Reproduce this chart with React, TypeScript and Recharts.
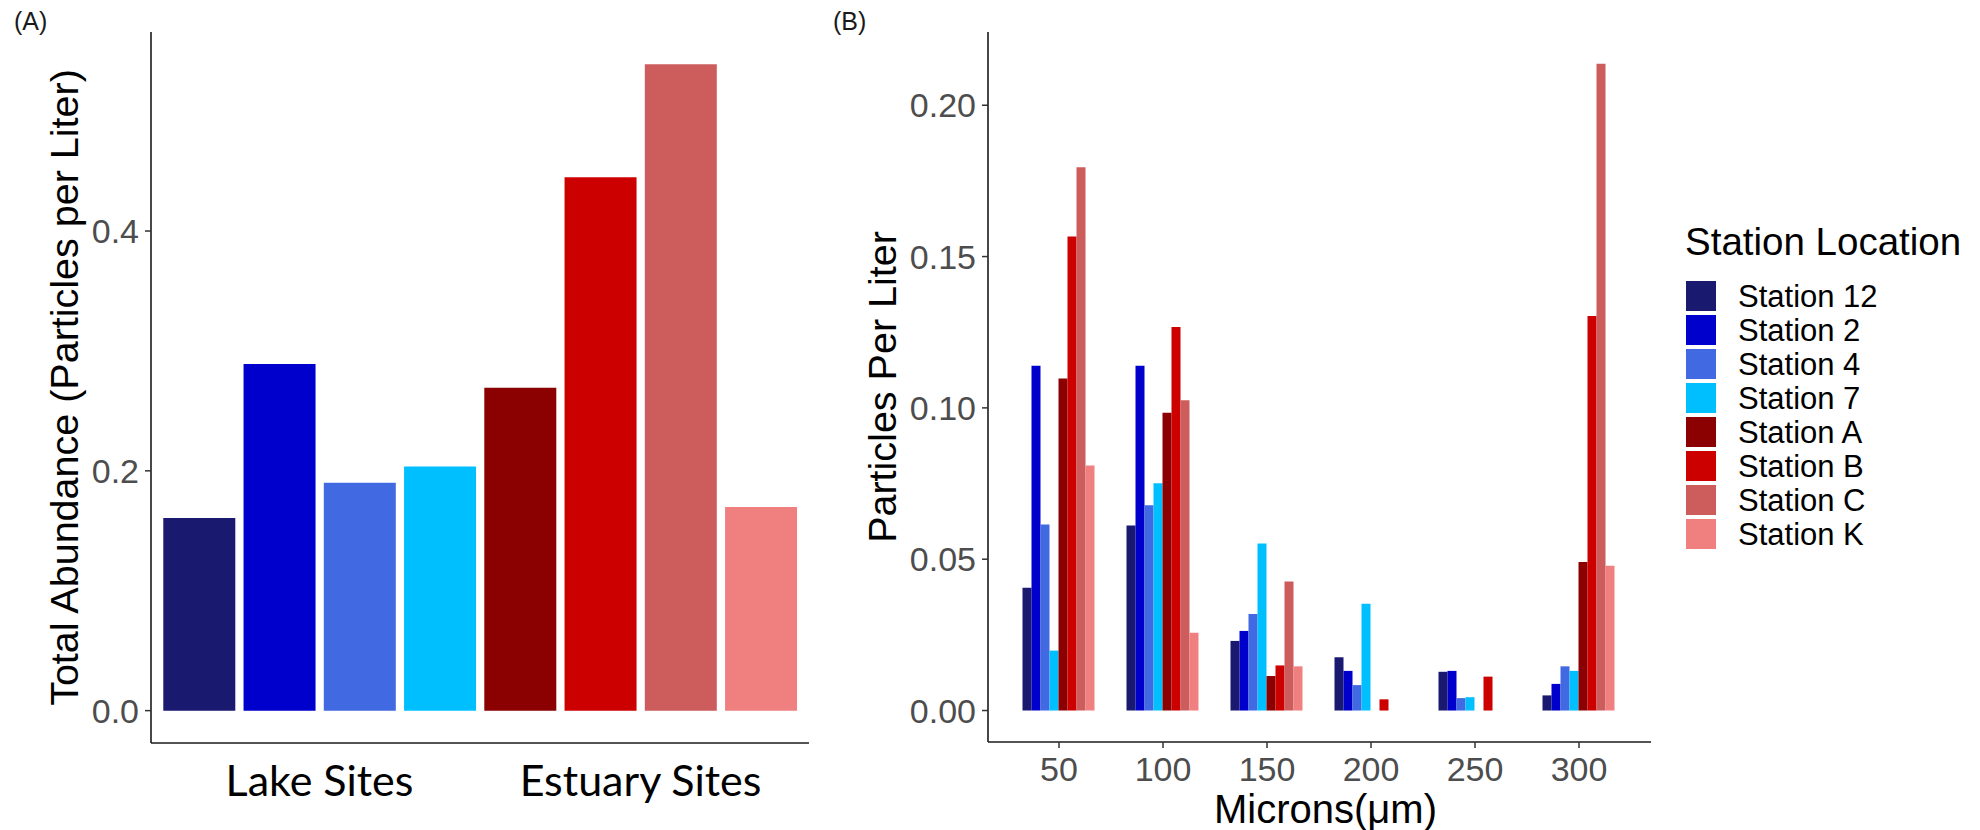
import React from 'react';
import { BarChart, Bar, XAxis, YAxis, Cell, Legend } from 'recharts';

const stationNames = ['Station 12', 'Station 2', 'Station 4', 'Station 7', 'Station A', 'Station B', 'Station C', 'Station K'];
const stationKeys = ['s12', 's2', 's4', 's7', 'sA', 'sB', 'sC', 'sK'];
const stationColors = ['#191970', '#0000CD', '#4169E1', '#00BFFF', '#8B0000', '#CD0000', '#CD5C5C', '#F08080'];

// (A) total abundance per station
const siteGroups = ['Lake Sites', 'Lake Sites', 'Lake Sites', 'Lake Sites', 'Estuary Sites', 'Estuary Sites', 'Estuary Sites', 'Estuary Sites'];
const totalAbundance = [0.1606, 0.2891, 0.1901, 0.2037, 0.2693, 0.4449, 0.539, 0.1699];
const abundanceTicks = [0, 0.2, 0.4];

// (B) particles per liter by size class
const micronBins = ['50', '100', '150', '200', '250', '300'];
const station12 = [0.0406, 0.0611, 0.023, 0.0176, 0.0128, 0.005];
const station2 = [0.1139, 0.1139, 0.0263, 0.0131, 0.0131, 0.0088];
const station4 = [0.0615, 0.0678, 0.0319, 0.0084, 0.0041, 0.0146];
const station7 = [0.0198, 0.0751, 0.0552, 0.0353, 0.0044, 0.0131];
const stationA = [0.1097, 0.0984, 0.0114, 0, 0, 0.0491];
const stationB = [0.1566, 0.1267, 0.0149, 0.0037, 0.0112, 0.1304];
const stationC = [0.1795, 0.1025, 0.0426, 0, 0, 0.2137];
const stationK = [0.081, 0.0257, 0.0146, 0, 0, 0.0478];
const perLiterTicks = [0, 0.05, 0.1, 0.15, 0.2];

const seriesB = [station12, station2, station4, station7, stationA, stationB, stationC, stationK];

const abundanceRows = stationNames.map((name, i) => ({
  station: name,
  group: siteGroups[i],
  total: totalAbundance[i],
}));

const micronRows = micronBins.map((bin, j) => {
  const row: Record<string, string | number> = { micron: bin };
  stationKeys.forEach((k, i) => {
    row[k] = seriesB[i][j];
  });
  return row;
});

const SANS = '"Liberation Sans", Arial, sans-serif';
const axisLine = { stroke: '#1a1a1a', strokeWidth: 1.6 };
const tickLine = { stroke: '#333', strokeWidth: 1.5 };
const tickText = { fill: '#4D4D4D', fontSize: 34, fontFamily: SANS };

const yTitle = (text: string, dx: number) => (props: any) => {
  const vb = props.viewBox;
  const cx = vb.x + dx;
  const cy = vb.y + vb.height / 2;
  return (
    <text x={cx} y={cy} dy="0.355em" transform={`rotate(-90 ${cx} ${cy})`} textAnchor="middle" fontSize={39.5} fontFamily={SANS} fill="#000">
      {text}
    </text>
  );
};

const xTitle = (props: any) => {
  const vb = props.viewBox;
  return (
    <text x={vb.x + vb.width / 2 + 6} y={vb.y + 80.5} textAnchor="middle" fontSize={40} fontFamily={SANS} fill="#000">
      Microns(μm)
    </text>
  );
};

const renderLegend = () => (
  <svg width={300} height={340} style={{ display: 'block' }}>
    <text x={0} y={35} fontSize={38.5} fontFamily={SANS} fill="#000">Station Location</text>
    {stationNames.map((name, i) => (
      <g key={name}>
        <rect x={1} y={61 + 34 * i} width={30} height={30} fill={stationColors[i]} />
        <text x={53} y={87 + 34 * i} fontSize={31} fontFamily={SANS} fill="#000">{name}</text>
      </g>
    ))}
  </svg>
);

export default function App() {
  return (
    <div style={{ position: 'absolute', left: 0, top: 0, width: 1980, height: 830, background: '#fff', fontFamily: SANS }}>
      <div style={{ position: 'absolute', left: 0, top: 0 }}>
        <BarChart width={830} height={830} data={abundanceRows} margin={{ top: 32, right: 21, bottom: 0, left: 0 }} barCategoryGap={4.3}>
          <XAxis xAxisId="st" dataKey="station" type="category" hide padding={{ left: 8, right: 8 }} />
          <XAxis
            xAxisId="grp"
            dataKey="group"
            type="category"
            allowDuplicatedCategory={false}
            height={87}
            padding={{ left: 8, right: 8 }}
            axisLine={axisLine}
            tickLine={false}
            tickSize={0}
            tickMargin={22}
            interval={0}
            tick={{ fill: '#000', fontSize: 43, fontFamily: 'Lato' }}
          />
          <YAxis
            width={151}
            type="number"
            domain={[-0.027, 0.566]}
            allowDataOverflow
            ticks={abundanceTicks}
            tickFormatter={(v: number) => v.toFixed(1)}
            tickSize={6}
            tickMargin={6}
            axisLine={axisLine}
            tickLine={tickLine}
            tick={tickText}
            label={{ content: yTitle('Total Abundance (Particles per Liter)', 64) }}
          />
          <Bar xAxisId="st" dataKey="total" isAnimationActive={false}>
            {totalAbundance.map((_, i) => (
              <Cell key={i} fill={stationColors[i]} />
            ))}
          </Bar>
        </BarChart>
      </div>

      <div style={{ position: 'absolute', left: 830, top: 0 }}>
        <BarChart width={1150} height={830} data={micronRows} margin={{ top: 32, right: 329, bottom: 0, left: 0 }} barCategoryGap={15.5} barGap={0}>
          <XAxis
            dataKey="micron"
            type="category"
            height={88}
            padding={{ left: 19, right: 20 }}
            interval={0}
            tickSize={6}
            tickMargin={9}
            axisLine={axisLine}
            tickLine={tickLine}
            tick={tickText}
            label={{ content: xTitle }}
          />
          <YAxis
            width={158}
            type="number"
            domain={[-0.0104, 0.2242]}
            allowDataOverflow
            ticks={perLiterTicks}
            tickFormatter={(v: number) => v.toFixed(2)}
            tickSize={6}
            tickMargin={6}
            axisLine={axisLine}
            tickLine={tickLine}
            tick={tickText}
            label={{ content: yTitle('Particles Per Liter', 51.6) }}
          />
          {stationKeys.map((k, i) => (
            <Bar key={k} dataKey={k} name={stationNames[i]} fill={stationColors[i]} isAnimationActive={false} />
          ))}
          <Legend
            layout="vertical"
            align="center"
            verticalAlign="middle"
            wrapperStyle={{ left: 855, top: 220, width: 300, height: 340 }}
            content={renderLegend}
          />
        </BarChart>
      </div>

      <svg width={1980} height={830} style={{ position: 'absolute', left: 0, top: 0, pointerEvents: 'none' }}>
        <text x={14} y={29.5} fontSize={25} fontFamily={SANS} fill="#1a1a1a">(A)</text>
        <text x={833} y={29.5} fontSize={25} fontFamily={SANS} fill="#1a1a1a">(B)</text>
      </svg>
    </div>
  );
}
